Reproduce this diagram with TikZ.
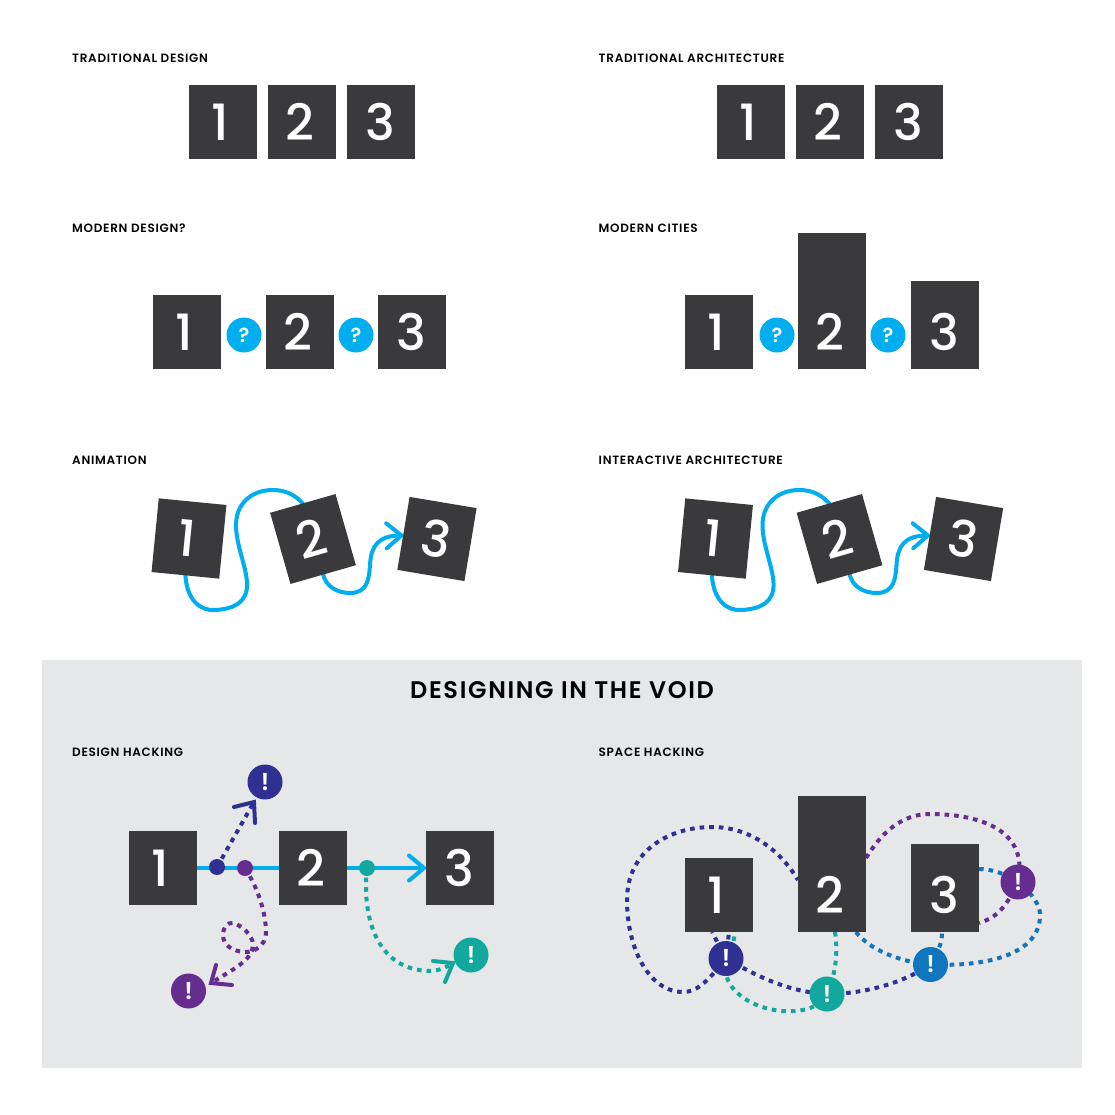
\documentclass[tikz,border=0pt]{standalone}
\usepackage{fontspec}
\setmainfont{Poppins}
\newfontfamily\labelfont[LetterSpace=6]{Poppins SemiBold}
\newfontfamily\titlefont[LetterSpace=7]{Poppins SemiBold}
\newfontfamily\digitfont{Poppins Medium}
\newfontfamily\markfont{Poppins SemiBold}
\usetikzlibrary{arrows.meta}
\definecolor{dark}{HTML}{3A3A3C}
\definecolor{cyanline}{HTML}{00AEEF}
\definecolor{navy}{HTML}{2E3192}
\definecolor{plum}{HTML}{662D91}
\definecolor{teal2}{HTML}{13A89E}
\definecolor{blue2}{HTML}{0F75BC}
\definecolor{panelgray}{HTML}{E6E7E8}
\pgfdeclarelayer{panel}
\pgfdeclarelayer{wires}
\pgfsetlayers{panel,wires,main}
\tikzset{
  boxnode/.style={fill=dark,inner sep=0pt,outer sep=0pt,minimum width=68pt},
  digit/.style={text=white,inner sep=0pt,font=\fontsize{50}{50}\digitfont},
  caption/.style={anchor=base west,inner sep=0pt,text=black,font=\fontsize{12}{12}\labelfont},
  qmark/.style={circle,fill=cyanline,minimum size=35pt,inner sep=0pt,text=white,font=\fontsize{20}{20}\markfont},
  bang/.style={circle,minimum size=35pt,inner sep=0pt,text=white,font=\fontsize{24}{24}\markfont},
  dot/.style={circle,minimum size=16pt,inner sep=0pt},
  flow/.style={draw=cyanline,line width=4pt,line cap=round},
  hack/.style={line width=4pt,dash pattern=on 4.6pt off 5pt},
  vee/.style={-{Straight Barb[length=15pt,width=25pt,round,line width=4pt]}},
  barb/.style={line width=4pt,line cap=round,line join=miter},
}
% name, left, top, bottom, digit
\newcommand{\dbox}[5]{%
  \pgfmathsetmacro{\mycx}{#2+34}\pgfmathsetmacro{\mycy}{(#3+#4)/2}\pgfmathsetmacro{\mydy}{#4-37}%
  \pgfmathsetmacro{\mydx}{#2+34+\ifcase#5\or-2.5\or-2\or-0.5\fi}%
  \node[boxnode,minimum height={(#4-#3)*1pt}] (#1) at (\mycx,\mycy) {};
  \node[digit] (#1d) at (\mydx,\mydy) {#5};
}
% name, cx, cy, rotation, digit
\newcommand{\rbox}[5]{%
  \node[boxnode,minimum height=74pt,rotate=#4] (#1) at (#2,#3) {};
  \pgfmathsetmacro{\mydx}{#2+\ifcase#5\or-2.5\or-2\or-0.5\fi}%
  \node[digit,rotate=#4] (#1d) at (\mydx,#3) {#5};
}
% prefix: tilted row with curves
\newcommand{\tiltrow}[1]{%
  \rbox{#1a}{189}{538.5}{-5.6}{1}
  \rbox{#1b}{313}{539}{16}{2}
  \rbox{#1c}{437}{539}{-9.5}{3}
  \begin{pgfonlayer}{wires}
  \draw[flow] (#1a.south) .. controls (187,600) and (200,611) .. (215,610)
     .. controls (233,609) and (248,603) .. (247,583)
     .. controls (246,565) and (236,545) .. (236,525)
     .. controls (236,505) and (250,490) .. (273,490)
     .. controls (287,490) and (296,496) .. (#1b.north);
  \draw[flow,vee] (#1b.south) .. controls (326,587) and (338,593) .. (350,593)
     .. controls (368,593) and (369,578) .. (370,565)
     .. controls (371,546) and (378,536) .. ([yshift=-2pt]#1c.west);
  \end{pgfonlayer}
}
\begin{document}
\begin{tikzpicture}[x=1pt,y=-1pt]
\useasboundingbox (0,0) rectangle (1115,1114);
\begin{pgfonlayer}{panel}
\node[fill=panelgray,inner sep=0pt,outer sep=0pt,minimum width=1040pt,minimum height=408pt] (panel) at (562,864) {};
\end{pgfonlayer}
\node[anchor=base,inner sep=0pt,font=\fontsize{24}{24}\titlefont] (title) at (562,698) {DESIGNING IN THE VOID};

\node[caption] (c1) at (72,62.5) {TRADITIONAL DESIGN};
\node[caption] (c2) at (598.5,62.5) {TRADITIONAL ARCHITECTURE};
\node[caption] (c3) at (72,232.5) {MODERN DESIGN?};
\node[caption] (c4) at (598.5,232.5) {MODERN CITIES};
\node[caption] (c5) at (72,464.5) {ANIMATION};
\node[caption] (c6) at (598.5,464.5) {INTERACTIVE ARCHITECTURE};
\node[caption] (c7) at (72,756.5) {DESIGN HACKING};
\node[caption] (c8) at (598.5,756.5) {SPACE HACKING};

% row 1
\dbox{ta}{189}{85}{159}{1}\dbox{tb}{268}{85}{159}{2}\dbox{tc}{346.5}{85}{159}{3}
\dbox{ua}{717}{85}{159}{1}\dbox{ub}{796}{85}{159}{2}\dbox{uc}{874.5}{85}{159}{3}
% row 2
\dbox{ma}{153}{295}{369}{1}\dbox{mb}{266}{295}{369}{2}\dbox{mc}{378}{295}{369}{3}
\node[qmark] (mq1) at (244,335) {?};
\node[qmark] (mq2) at (356,335) {?};
\dbox{ca}{685}{295}{369}{1}\dbox{cb}{798}{233}{369}{2}\dbox{cc}{911}{281}{369}{3}
\node[qmark] (cq1) at (777,335) {?};
\node[qmark] (cq2) at (888,335) {?};
% row 3
\tiltrow{an}
\begin{scope}[xshift=526.5pt]
\tiltrow{ia}
\end{scope}

% design hacking
\dbox{da}{129}{831}{905}{1}\dbox{db}{279}{831}{905}{2}\dbox{dc}{426}{831}{905}{3}
\begin{pgfonlayer}{wires}
\draw[cyanline,line width=4pt] (da.east |- 0,868) -- (db.west |- 0,868);
\draw[flow,vee] (db.east |- 0,868) -- (dc.west |- 0,868);
\end{pgfonlayer}
\node[dot,fill=navy] (dd1) at (217,867) {};
\node[dot,fill=plum] (dd2) at (245,868) {};
\node[dot,fill=teal2] (dd3) at (367,868) {};
\node[bang,fill=navy] (db1) at (265,782) {!};
\node[bang,fill=plum] (db2) at (188.5,991) {!};
\node[bang,fill=teal2] (db3) at (471,955) {!};
\coordinate (tip1) at (254,802);
\coordinate (tip2) at (211,983);
\coordinate (tip3) at (453,963);
\begin{pgfonlayer}{wires}
\draw[hack,draw=navy] (dd1.center) -- (tip1);
\draw[barb,draw=navy] (234,807) -- (tip1) -- (255,823);
\draw[hack,draw=plum] (dd2.center) .. controls (256,885) and (266,910) .. (266,933)
  .. controls (266,945) and (254,953) .. (244,952)
  .. controls (232,951) and (223,945) .. (223,935)
  .. controls (223,927) and (228,922) .. (233,923)
  .. controls (241,925) and (253,935) .. (253,945)
  .. controls (253,960) and (232,970) .. (tip2);
\draw[barb,draw=plum] (216,965) -- (tip2) -- (232,985);
\draw[hack,draw=teal2] (dd3.center) .. controls (362,915) and (375,970) .. (430,971) .. controls (438,971) and (447,967) .. (tip3);
\draw[barb,draw=teal2] (433,961) -- (tip3) -- (445,982);
\end{pgfonlayer}

% space hacking
\dbox{sa}{685}{858}{932}{1}\dbox{sb}{798}{796}{932}{2}\dbox{sc}{911}{844}{932}{3}
\node[bang,fill=navy] (s1) at (726,958.5) {!};
\node[bang,fill=teal2] (s2) at (827,994) {!};
\node[bang,fill=blue2] (s3) at (930.5,964.5) {!};
\node[bang,fill=plum] (s4) at (1018,882) {!};
\begin{pgfonlayer}{wires}
% navy
\draw[hack,draw=navy] (s1.center) .. controls (705,985) and (695,992) .. (683,992)
  .. controls (650,992) and (627,950) .. (627,900)
  .. controls (627,850) and (670,827) .. (712,827)
  .. controls (750,827) and (780,850) .. ([yshift=-16pt]sb.west);
\draw[hack,draw=navy] (s1.center) -- ([xshift=-7pt]sa.south);
\draw[hack,draw=navy] (s1.center) -- ([xshift=10pt]sa.south);
\draw[hack,draw=navy] (s1.center) .. controls (760,978) and (790,992) .. (s2.center);
\draw[hack,draw=navy] (s2.center) .. controls (860,994) and (900,985) .. (s3.center);
% teal
\draw[hack,draw=teal2] (s1.center) .. controls (732,950) and (735,940) .. ([xshift=15pt]sa.south);
\draw[hack,draw=teal2] (s1.center) .. controls (718,992) and (760,1014) .. (795,1011) .. controls (810,1010) and (820,1005) .. (s2.center);
\draw[hack,draw=teal2] ([xshift=3pt]sb.south) .. controls (838,950) and (836,975) .. (s2.center);
% blue
\draw[hack,draw=blue2] ([xshift=24pt]sb.south) .. controls (870,950) and (900,962) .. (s3.center);
\draw[hack,draw=blue2] (s3.center) .. controls (938,950) and (942,945) .. ([xshift=-3pt]sc.south);
\draw[hack,draw=blue2] (s3.center) .. controls (985,967) and (1042,955) .. (1040,913) .. controls (1039,902) and (1028,890) .. (s4.center);
\draw[hack,draw=blue2] ([yshift=19pt]sc.east) .. controls (990,869) and (1005,873) .. (s4.center);
% purple
\draw[hack,draw=plum] ([yshift=6pt]sb.east) .. controls (880,835) and (900,814) .. (930,814)
  .. controls (970,814) and (1030,825) .. (s4.center);
\draw[hack,draw=plum] (s4.center) .. controls (1005,910) and (995,918) .. ([yshift=-35pt]sc.east);
\end{pgfonlayer}
\end{tikzpicture}
\end{document}
